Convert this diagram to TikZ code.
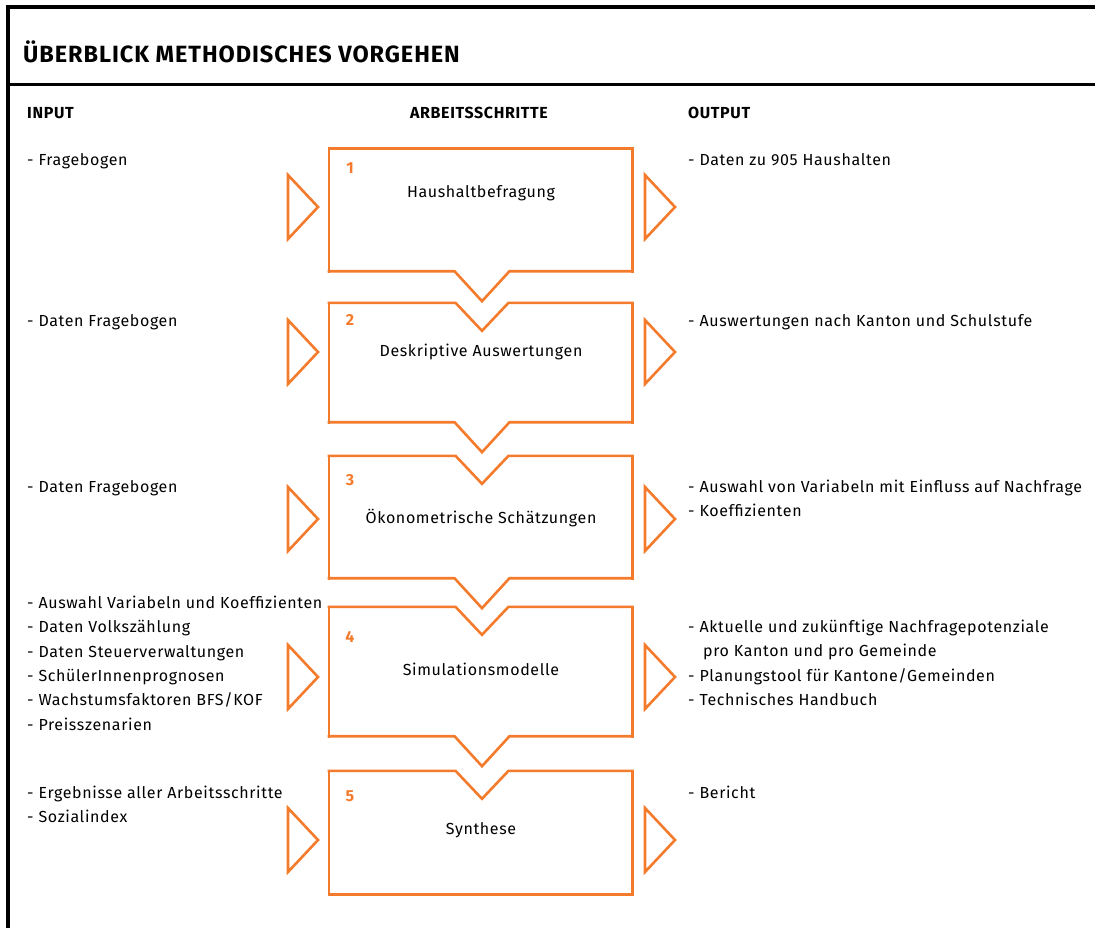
\documentclass[tikz,border=0pt]{standalone}
\usepackage{fontspec}
\setmainfont{Fira Sans}[LetterSpace=4]
\usepackage{tikz}
\usetikzlibrary{positioning}
\definecolor{orng}{RGB}{244,123,44}
\tikzstyle{stepArea}=[rectangle, minimum width=303pt, inner sep=0pt]
\tikzstyle{stepLine}=[draw=orng, line width=2.6pt, line join=miter, line cap=rect]
\tikzstyle{stepText}=[inner sep=0pt, font=\fontsize{16}{19}\selectfont]
\tikzstyle{stepNum}=[inner sep=0pt, text=orng, font=\fontsize{16}{19}\selectfont\bfseries]
\tikzstyle{desc}=[anchor=base west, align=left, inner sep=0pt, font=\fontsize{16}{24.3}\selectfont]
\tikzstyle{head}=[anchor=base west, inner sep=0pt, font=\fontsize{16}{19}\selectfont\bfseries]
\tikzset{frame/.style={draw=black, line width=3.5pt}}

\begin{document}
\begin{tikzpicture}[x=1pt, y=-1pt]
    \useasboundingbox (0,0) rectangle (1095,928);

        % frame and title
        \draw[frame] (1095,7) -- (8,7) -- (8,928);
        \draw[frame] (8,84.5) -- (1095,84.5);
        \node (title) [head, font=\fontsize{23.5}{28}\selectfont\bfseries] at (23,63) {ÜBERBLICK METHODISCHES VORGEHEN};

        \node (inputHead) [head] at (27,119) {INPUT};
        \node (stepHead) [head, anchor=base] at (479,119) {ARBEITSSCHRITTE};
        \node (outputHead) [head] at (688,119) {OUTPUT};

        % steps
        \foreach \n/\t/\b/\c/\ty/\ny/\name in {1/149/271/207/193/168/Haushaltbefragung,
                2/303/422/352/352/320/Deskriptive Auswertungen,
                3/456/578/519/518/480/Ökonometrische Schätzungen,
                4/607/736/677/669/637/Simulationsmodelle,
                5/771/894/840/830/796/Synthese}{
            \node (box\n) [stepArea, minimum height={(\b-\t)*1pt}] at (480.5,{(\t+\b)/2}) {};
            \node (title\n) [stepText] at (481,\ty) {\name};
            \node (num\n) [stepNum] at (350,\ny) {\n};
            \draw[stepLine] (288,{\c-32}) -- (318,\c) -- (288,{\c+32}) -- cycle;
            \draw[stepLine] (645,{\c-32}) -- (675,\c) -- (645,{\c+32}) -- cycle;
            \draw[stepLine] (box\n.north west) -- (box\n.south west) (box\n.north east) -- (box\n.south east);
        };

        \draw[stepLine] (box1.north west) -- (box1.north east);
        \foreach \n in {2,...,5}{
            \draw[stepLine] (box\n.north west) -- ([xshift=-25pt]box\n.north) -- ([xshift=1.5pt, yshift=-28pt]box\n.north) -- ([xshift=28pt]box\n.north) -- (box\n.north east);
        };
        \foreach \n in {1,...,4}{
            \draw[stepLine] (box\n.south west) -- ([xshift=-26pt]box\n.south) -- ([xshift=1.5pt, yshift=-30pt]box\n.south) -- ([xshift=29pt]box\n.south) -- (box\n.south east);
        };
        \draw[stepLine] (box5.south west) -- (box5.south east);

        % input (base = last line)
        \node (input1) [desc] at (27,165.5) {- Fragebogen};
        \node (input2) [desc] at (27,326.5) {- Daten Fragebogen};
        \node (input3) [desc] at (27,492.5) {- Daten Fragebogen};
        \node (input4) [desc] at (27,730) {- Auswahl Variabeln und Koeffizienten\\- Daten Volkszählung\\- Daten Steuerverwaltungen\\- SchülerInnenprognosen\\- Wachstumsfaktoren BFS/KOF\\- Preisszenarien};
        \node (input5) [desc] at (27,822.8) {- Ergebnisse aller Arbeitsschritte\\- Sozialindex};

        % output
        \node (output1) [desc] at (688,165.5) {- Daten zu 905 Haushalten};
        \node (output2) [desc] at (688,326.5) {- Auswertungen nach Kanton und Schulstufe};
        \node (output3) [desc] at (688,516.8) {- Auswahl von Variabeln mit Einfluss auf Nachfrage\\- Koeffizienten};
        \node (output4) [desc] at (688,705.4) {- Aktuelle und zukünftige Nachfragepotenziale\\\hspace*{15pt}pro Kanton und pro Gemeinde\\- Planungstool für Kantone/Gemeinden\\- Technisches Handbuch};
        \node (output5) [desc] at (688,798.5) {- Bericht};

    \end{tikzpicture}
\end{document}
